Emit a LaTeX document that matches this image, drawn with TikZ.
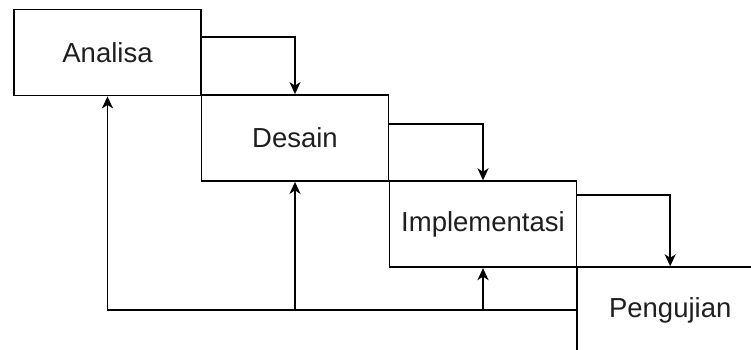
\documentclass[tikz,border=0pt]{standalone}
\usepackage{fontspec}
\setmainfont{Liberation Sans}
\usetikzlibrary{arrows.meta}
\tikzset{
  phase/.style={draw, line width=1.8pt, minimum width=187pt, minimum height=86pt,
    inner sep=0pt, font=\fontsize{27.5}{32}\selectfont, text=black!88},
  flow/.style={line width=1.8pt, -{Stealth[length=12pt,width=11pt,inset=3.5pt]}},
}
\begin{document}
\begin{tikzpicture}[x=1pt,y=1pt]
  \useasboundingbox (0,0) rectangle (751,349);
  \clip (0,0) rectangle (751,349);
  \fill[white] (0,0) rectangle (751,349);

  % waterfall phases, top-left to bottom-right
  \node[phase] (A) at (107.5,296.5) {Analisa};
  \node[phase] (D) at (295,211)   {Desain};
  \node[phase] (I) at (483,124.8) {Implementasi};
  \node[phase] (P) at (670.2,38.8) {Pengujian};

  % forward flow between phases
  \coordinate (a1) at (A.east |- 0,311.7);
  \coordinate (d1) at (D.east |- 0,225.3);
  \coordinate (i1) at (I.east |- 0,153.7);
  \draw[flow] (a1) -| (D.north);
  \draw[flow] (d1) -| (I.north);
  \draw[flow] (i1) -| (P.north);

  % feedback from testing back to earlier phases
  \coordinate (jd) at (D.south |- P.west);
  \coordinate (ji) at (I.south |- P.west);
  \draw[flow] (P.west) -| (A.south);
  \draw[flow] (jd) -- (D.south);
  \draw[flow] (ji) -- (I.south);
\end{tikzpicture}
\end{document}
